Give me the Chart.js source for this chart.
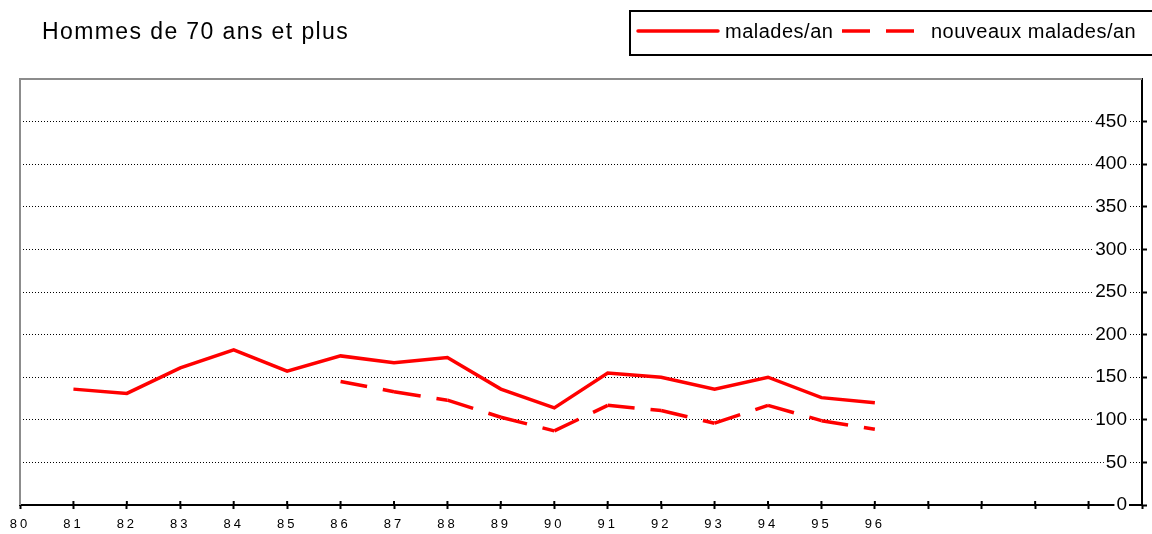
<!DOCTYPE html>
<html>
<head>
<meta charset="utf-8">
<title>Hommes de 70 ans et plus</title>
<script src="https://cdn.jsdelivr.net/npm/chart.js@4.4.1/dist/chart.umd.min.js"></script>
<style>
  html, body { margin: 0; padding: 0; background: #fff; }
  #wrap { width: 1152px; height: 534px; position: relative; }
</style>
</head>
<body>
<div id="wrap"><canvas id="chart"></canvas></div>
<script>
const titleText = 'Hommes de 70 ans et plus';
const years = [81, 82, 83, 84, 85, 86, 87, 88, 89, 90, 91, 92, 93, 94, 95, 96];
const malades = [136, 131, 161, 182, 157, 175, 167, 173, 136, 114, 155, 150, 136, 150, 126, 120];
const nouveaux = [null, null, null, null, null, 145, 133, 123, 103, 87, 117, 111, 96, 117, 99, 89];
const xRange = [80, 101];      // axis runs past the last year, labels stop at 96
const lastLabelledYear = 96;
const yRange = [0, 500];
const yStep = 50;

const red = '#ff0000';
const font = "'Liberation Sans', Arial, sans-serif";

Chart.defaults.font.family = font;
Chart.defaults.color = '#000';

// title, framed legend, gray top/left frame, tick stubs above the x axis
const chartDecor = {
    id: 'chartDecor',
    afterLayout(chart) {
        const xs = chart.scales.x;
        if (xs && !xs._spaced) {
            xs._spaced = true;
            const base = Object.getPrototypeOf(xs).drawLabels;
            xs.drawLabels = function(area) {
                this.ctx.save();
                this.ctx.letterSpacing = '3px';
                base.call(this, area);
                this.ctx.restore();
            };
        }
    },
    beforeDatasetsDraw(chart) {
        const {ctx, chartArea: a} = chart;
        ctx.save();
        ctx.strokeStyle = '#8c8c8c';
        ctx.lineWidth = 2;
        ctx.beginPath();
        ctx.moveTo(a.left, a.bottom);
        ctx.lineTo(a.left, a.top);
        ctx.lineTo(a.right, a.top);
        ctx.stroke();

        // ticks cross the axis line
        ctx.strokeStyle = '#000';
        ctx.lineWidth = 2;
        chart.scales.x.ticks.forEach(t => {
            const px = chart.scales.x.getPixelForValue(t.value);
            if (px <= a.left || px >= a.right) return;
            ctx.beginPath();
            ctx.moveTo(px, a.bottom - 4);
            ctx.lineTo(px, a.bottom);
            ctx.stroke();
        });
        ctx.restore();
    },
    afterDraw(chart) {
        const ctx = chart.ctx;
        const ds = chart.data.datasets;
        ctx.save();
        ctx.fillStyle = '#000';
        ctx.textBaseline = 'alphabetic';

        ctx.font = '23px ' + font;
        ctx.letterSpacing = '1.4px';
        ctx.fillText(titleText, 42, 39);

        ctx.letterSpacing = '0.5px';
        ctx.font = '20px ' + font;
        ctx.strokeStyle = '#000';
        ctx.lineWidth = 2;
        ctx.strokeRect(630, 11, 560, 44);

        ctx.strokeStyle = red;
        ctx.lineWidth = 3.5;
        ctx.lineCap = 'round';
        ctx.beginPath();
        ctx.moveTo(638, 31);
        ctx.lineTo(718, 31);
        ctx.stroke();
        ctx.fillText(ds[0].label, 725, 38);

        ctx.lineCap = 'butt';
        ctx.setLineDash([28, 16]);
        ctx.beginPath();
        ctx.moveTo(842, 31);
        ctx.lineTo(914, 31);
        ctx.stroke();
        ctx.setLineDash([]);
        ctx.fillText(ds[1].label, 931, 38);
        ctx.restore();
    }
};

const chart = new Chart(document.getElementById('chart'), {
    type: 'line',
    data: {
        datasets: [{
            label: 'malades/an',
            data: years.map((y, i) => ({x: y, y: malades[i]})),
            borderColor: red,
            borderWidth: 3.5,
            pointRadius: 0,
            tension: 0
        }, {
            label: 'nouveaux malades/an',
            data: years.map((y, i) => ({x: y, y: nouveaux[i]})),
            borderColor: red,
            borderWidth: 3.5,
            borderDash: [27, 16],
            pointRadius: 0,
            tension: 0,
            // tiny offset per segment so the dash pattern restarts at each point
            segment: {
                borderDashOffset: c => c.p0DataIndex * 0.001
            }
        }]
    },
    options: {
        animation: false,
        responsive: true,
        maintainAspectRatio: false,
        layout: {
            padding: {left: 20, top: 79, right: 0, bottom: 0}
        },
        plugins: {
            legend: {display: false},
            title: {display: false},
            tooltip: {enabled: false}
        },
        scales: {
            x: {
                type: 'linear',
                min: xRange[0],
                max: xRange[1],
                afterFit: s => { s.height = 29; },
                grid: {
                    drawOnChartArea: false,
                    tickLength: 4,
                    tickWidth: 2,
                    color: '#000',
                    tickColor: '#000'
                },
                border: {color: '#000', width: 2},
                ticks: {
                    stepSize: 1,
                    autoSkip: false,
                    maxRotation: 0,
                    padding: 8,
                    color: '#000',
                    font: {size: 13},
                    callback: v => v <= lastLabelledYear ? String(v) : ''
                }
            },
            y: {
                position: 'right',
                min: yRange[0],
                max: yRange[1],
                afterFit: s => { s.width = 10; },
                grid: {
                    color: c => (c.tick && (c.tick.value === 0 || c.tick.value === yRange[1])) ? 'rgba(0,0,0,0)' : '#000',
                    tickColor: c => (c.tick && c.tick.value === yRange[1]) ? 'rgba(0,0,0,0)' : '#000',
                    lineWidth: 1,
                    tickLength: 5,
                    tickWidth: 2
                },
                border: {color: '#000', width: 2, dash: [1, 2]},
                ticks: {
                    stepSize: yStep,
                    mirror: true,
                    padding: -15,
                    color: '#000',
                    font: {size: 19},
                    showLabelBackdrop: true,
                    backdropColor: '#fff',
                    backdropPadding: {x: 2, y: 0},
                    callback: v => v < yRange[1] ? String(v) : ''
                }
            }
        }
    },
    plugins: [chartDecor]
});
</script>
</body>
</html>
